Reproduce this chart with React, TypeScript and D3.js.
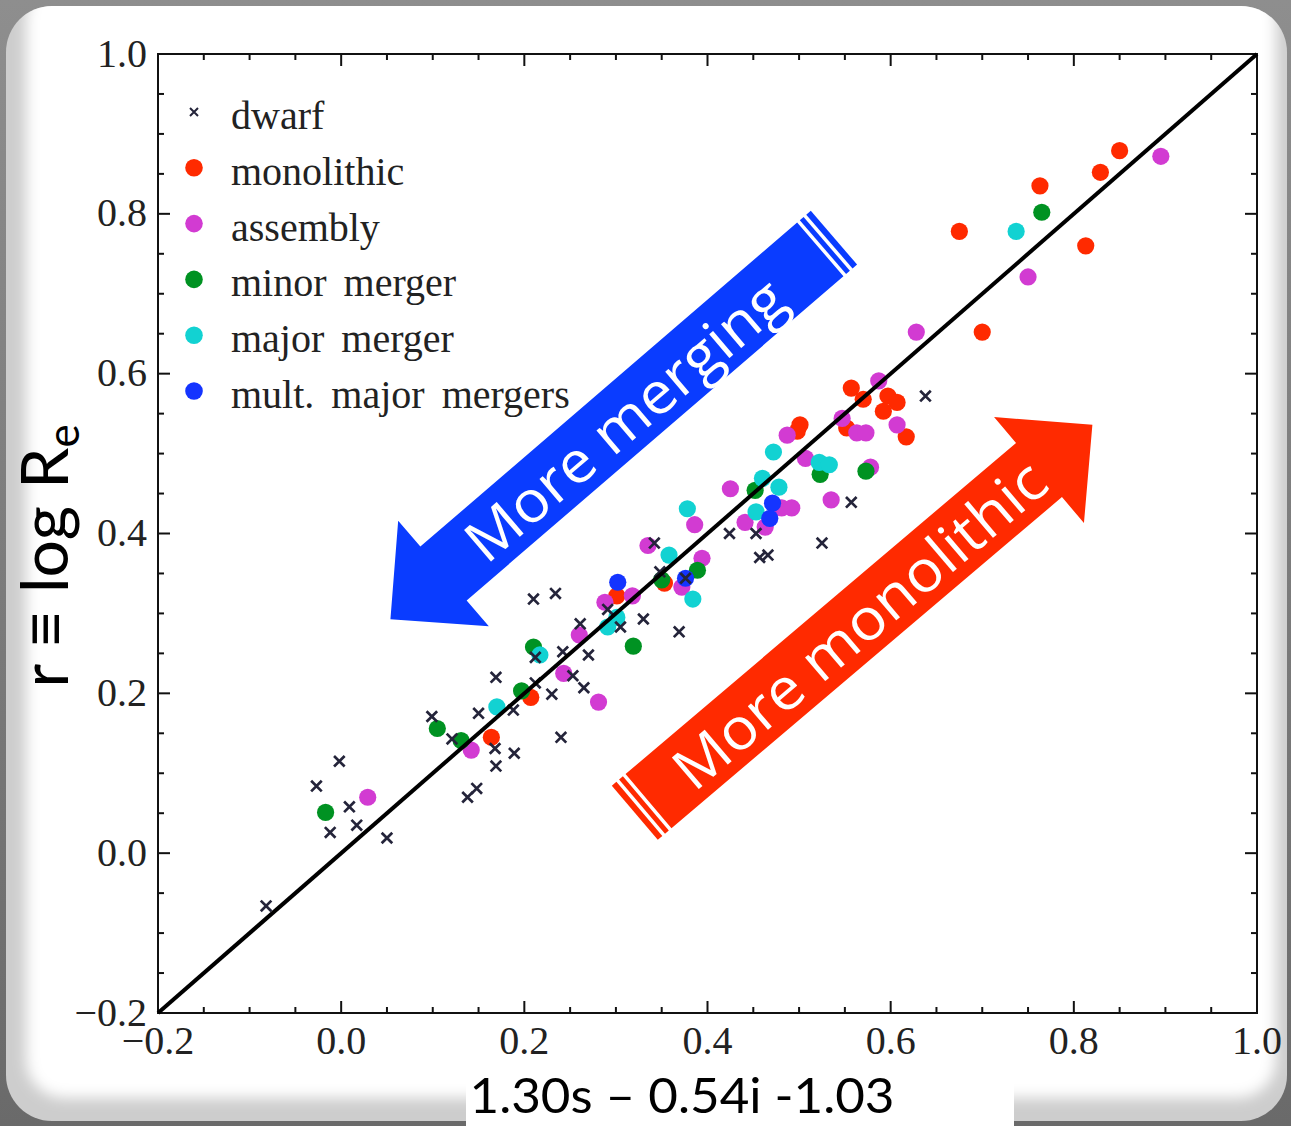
import React from 'react';
import * as d3 from 'd3';

const W = 1291;
const H = 1126;

const xTickValues = [-0.2, 0.0, 0.2, 0.4, 0.6, 0.8, 1.0];
const yTickValues = [-0.2, 0.0, 0.2, 0.4, 0.6, 0.8, 1.0];
const legendLabels = ['dwarf', 'monolithic', 'assembly', 'minor merger', 'major merger', 'mult. major mergers'];
const seriesColors = ['#24243a', '#ff2a00', '#d23bd2', '#009222', '#12d2d2', '#1434ff'];

const dwarf: [number, number][] = [
  [-0.082, -0.066], [-0.027, 0.084], [-0.002, 0.115], [-0.012, 0.026], [0.009, 0.058], [0.017, 0.035],
  [0.050, 0.019], [0.099, 0.171], [0.121, 0.143], [0.138, 0.070], [0.148, 0.081], [0.150, 0.175],
  [0.168, 0.131], [0.169, 0.109], [0.169, 0.220], [0.188, 0.179], [0.189, 0.125], [0.212, 0.213],
  [0.212, 0.245], [0.210, 0.318], [0.234, 0.325], [0.230, 0.199], [0.240, 0.145], [0.242, 0.252],
  [0.253, 0.222], [0.261, 0.287], [0.265, 0.207], [0.270, 0.248], [0.291, 0.305], [0.305, 0.283],
  [0.330, 0.293], [0.342, 0.388], [0.348, 0.352], [0.369, 0.277], [0.376, 0.344], [0.424, 0.400],
  [0.453, 0.400], [0.457, 0.370], [0.466, 0.373], [0.525, 0.388], [0.557, 0.439], [0.638, 0.572],
];

const monolithic: [number, number][] = [
  [0.164, 0.145], [0.207, 0.195], [0.301, 0.322], [0.353, 0.338], [0.501, 0.536], [0.498, 0.528],
  [0.557, 0.582], [0.570, 0.568], [0.597, 0.572], [0.607, 0.564], [0.592, 0.553], [0.552, 0.532],
  [0.617, 0.521], [0.675, 0.778], [0.700, 0.652], [0.763, 0.835], [0.813, 0.760], [0.829, 0.852],
  [0.850, 0.879],
];

const assembly: [number, number][] = [
  [0.029, 0.070], [0.142, 0.129], [0.243, 0.225], [0.260, 0.273], [0.281, 0.189], [0.288, 0.314],
  [0.318, 0.322], [0.335, 0.385], [0.372, 0.333], [0.394, 0.369], [0.386, 0.411], [0.425, 0.456],
  [0.441, 0.414], [0.463, 0.408], [0.481, 0.432], [0.492, 0.432], [0.487, 0.523], [0.507, 0.494],
  [0.535, 0.442], [0.547, 0.544], [0.563, 0.526], [0.573, 0.526], [0.578, 0.483], [0.587, 0.591],
  [0.607, 0.536], [0.628, 0.652], [0.750, 0.721], [0.895, 0.872],
];

const minorMerger: [number, number][] = [
  [-0.017, 0.051], [0.105, 0.156], [0.131, 0.141], [0.197, 0.203], [0.210, 0.258], [0.319, 0.259],
  [0.350, 0.342], [0.389, 0.354], [0.452, 0.454], [0.523, 0.474], [0.573, 0.478], [0.765, 0.802],
];

const majorMerger: [number, number][] = [
  [0.170, 0.183], [0.217, 0.248], [0.291, 0.283], [0.301, 0.295], [0.358, 0.373], [0.384, 0.318],
  [0.378, 0.431], [0.453, 0.427], [0.460, 0.469], [0.478, 0.458], [0.472, 0.502], [0.522, 0.489],
  [0.533, 0.486], [0.737, 0.778],
];

const multMajor: [number, number][] = [
  [0.302, 0.339], [0.376, 0.344], [0.471, 0.438], [0.468, 0.419],
];

const oneToOne: [number, number][] = [[-0.2, -0.2], [1.0, 1.0]];

const M = { left: 158, right: 1257, top: 54, bottom: 1013 };

const serif = '"Liberation Serif", "DejaVu Serif", serif';
const sans = 'Lato, "Open Sans", sans-serif';

type ArrowProps = {
  cx: number; cy: number; angle: number; tail: number; color: string;
  label: string; labelAt: number; textLen: number;
};

function Arrow({ cx, cy, angle, tail, color, label, labelAt, textLen }: ArrowProps) {
  const head = 70;
  const hw = 69.5;
  const bw = 35.5;
  const s1 = 6;
  const s2 = 5;
  const g = 3.5;
  const bodyEnd = tail - (s1 + g + s2 + g);
  const poly = `M${head},0 L0,${-hw} L0,${-bw} L${-bodyEnd},${-bw} L${-bodyEnd},${bw} L0,${bw} L0,${hw} Z`;
  const a = (angle * Math.PI) / 180;
  const tx = cx + Math.cos(a) * -labelAt;
  const ty = cy + Math.sin(a) * -labelAt;
  return (
    <g>
      <g transform={`translate(${cx},${cy}) rotate(${angle})`}>
        <path d={poly} fill={color} />
        <rect x={-(bodyEnd + g + s2)} y={-bw} width={s2} height={2 * bw} fill={color} />
        <rect x={-tail} y={-bw} width={s1} height={2 * bw} fill={color} />
      </g>
      <text
        x={0}
        y={0}
        transform={`translate(${tx},${ty}) rotate(-40.5)`}
        textAnchor="middle"
        dominantBaseline="central"
        fontFamily={'"Open Sans", sans-serif'}
        fontSize={58}
        fill="#ffffff"
        textLength={textLen}
        lengthAdjust="spacingAndGlyphs"
      >
        {label}
      </text>
    </g>
  );
}

export default function App() {
  const x = d3.scaleLinear().domain([-0.2, 1.0]).range([M.left, M.right]);
  const y = d3.scaleLinear().domain([-0.2, 1.0]).range([M.bottom, M.top]);
  const fmt = d3.format('.1f');
  const minor = d3.range(-0.2, 1.0001, 0.05);
  const line = d3.line<[number, number]>().x((d) => x(d[0])).y((d) => y(d[1]));
  const xMark = (s: number) => `M${-s},${-s}L${s},${s}M${-s},${s}L${s},${-s}`;

  const dotSeries: { data: [number, number][]; color: string }[] = [
    { data: monolithic, color: seriesColors[1] },
    { data: assembly, color: seriesColors[2] },
    { data: minorMerger, color: seriesColors[3] },
    { data: majorMerger, color: seriesColors[4] },
    { data: multMajor, color: seriesColors[5] },
  ];

  const legendY = (i: number) => 112 + i * 55.8;

  return (
    <svg width={W} height={H} style={{ position: 'absolute', left: 0, top: 0 }} xmlns="http://www.w3.org/2000/svg">
      <defs>
        <linearGradient id="bg" x1="0" y1="0" x2="0" y2="1">
          <stop offset="0" stopColor="#8e8e8e" />
          <stop offset="1" stopColor="#6a6a6a" />
        </linearGradient>
        <filter id="soft" x="-5%" y="-5%" width="110%" height="110%">
          <feGaussianBlur stdDeviation="7" />
        </filter>
        <clipPath id="panelClip">
          <rect x={6} y={6} width={1281} height={1115} rx={46} />
        </clipPath>
      </defs>

      <rect x={0} y={0} width={W} height={H} fill="url(#bg)" />
      <rect x={6} y={6} width={1281} height={1115} rx={46} fill="#cdcdcd" />
      <g clipPath="url(#panelClip)">
        <rect x={26} y={-20} width={1250} height={1118} rx={38} fill="#ffffff" filter="url(#soft)" />
      </g>

      {/* plot frame */}
      <rect x={M.left} y={M.top} width={M.right - M.left} height={M.bottom - M.top} fill="none" stroke="#111" strokeWidth={2} />

      {/* ticks */}
      {minor.map((v, i) => {
        const major = Math.abs(Math.round(v * 10) / 10 - v) < 1e-6 && Math.round(v * 10) % 2 === 0;
        const len = major ? 12 : 6;
        return (
          <g key={`t${i}`} stroke="#111" strokeWidth={2}>
            <line x1={x(v)} x2={x(v)} y1={M.bottom} y2={M.bottom - len} />
            <line x1={x(v)} x2={x(v)} y1={M.top} y2={M.top + len} />
            <line y1={y(v)} y2={y(v)} x1={M.left} x2={M.left + len} />
            <line y1={y(v)} y2={y(v)} x1={M.right} x2={M.right - len} />
          </g>
        );
      })}

      {xTickValues.map((v) => (
        <text key={`xl${v}`} x={x(v)} y={1054} textAnchor="middle" fontFamily={serif} fontSize={40} fill="#222">
          {fmt(v)}
        </text>
      ))}
      {yTickValues.map((v) => (
        <text key={`yl${v}`} x={147} y={y(v) - 1} textAnchor="end" dominantBaseline="central" fontFamily={serif} fontSize={40} fill="#222">
          {fmt(v)}
        </text>
      ))}

      {/* points */}
      {dotSeries.map((s, si) => (
        <g key={`s${si}`} fill={s.color}>
          {s.data.map((d, i) => (
            <circle key={i} cx={x(d[0])} cy={y(d[1])} r={8.6} />
          ))}
        </g>
      ))}
      <g stroke={seriesColors[0]} strokeWidth={2.7} fill="none">
        {dwarf.map((d, i) => (
          <path key={i} d={xMark(5.3)} transform={`translate(${x(d[0])},${y(d[1])})`} />
        ))}
      </g>

      {/* one-to-one line */}
      <path d={line(oneToOne) || ''} stroke="#000" strokeWidth={4} fill="none" />

      {/* legend */}
      {legendLabels.map((lab, i) => (
        <g key={`lg${i}`}>
          {i === 0 ? (
            <path d={xMark(4)} transform={`translate(194,${legendY(i)})`} stroke={seriesColors[0]} strokeWidth={2} fill="none" />
          ) : (
            <circle cx={194} cy={legendY(i)} r={8.8} fill={seriesColors[i]} />
          )}
          <text x={231} y={legendY(i) + 17} fontFamily={serif} fontSize={40} wordSpacing={7} fill="#222">
            {lab}
          </text>
        </g>
      ))}

      {/* arrows */}
      <Arrow cx={443.5} cy={573.5} angle={139.3} tail={515} color="#0a3cff" label="More merging" labelAt={238} textLen={400} />
      <Arrow cx={1039} cy={470} angle={-40.3} tail={530} color="#ff2a00" label="More monolithic" labelAt={237} textLen={470} />

      {/* axis labels */}
      <text
        transform="translate(68,556) rotate(-90)"
        textAnchor="middle"
        fontFamily={sans}
        fontSize={66}
        fill="#000"
      >
        r ≡ log R<tspan fontSize={44} dy={11}>e</tspan>
      </text>
      <rect x={466} y={1072} width={548} height={54} fill="#ffffff" />
      <text x={682} y={1113} textAnchor="middle" fontFamily={sans} fontSize={48} fill="#000" textLength={425} lengthAdjust="spacingAndGlyphs">
        1.30s – 0.54i -1.03
      </text>
    </svg>
  );
}
